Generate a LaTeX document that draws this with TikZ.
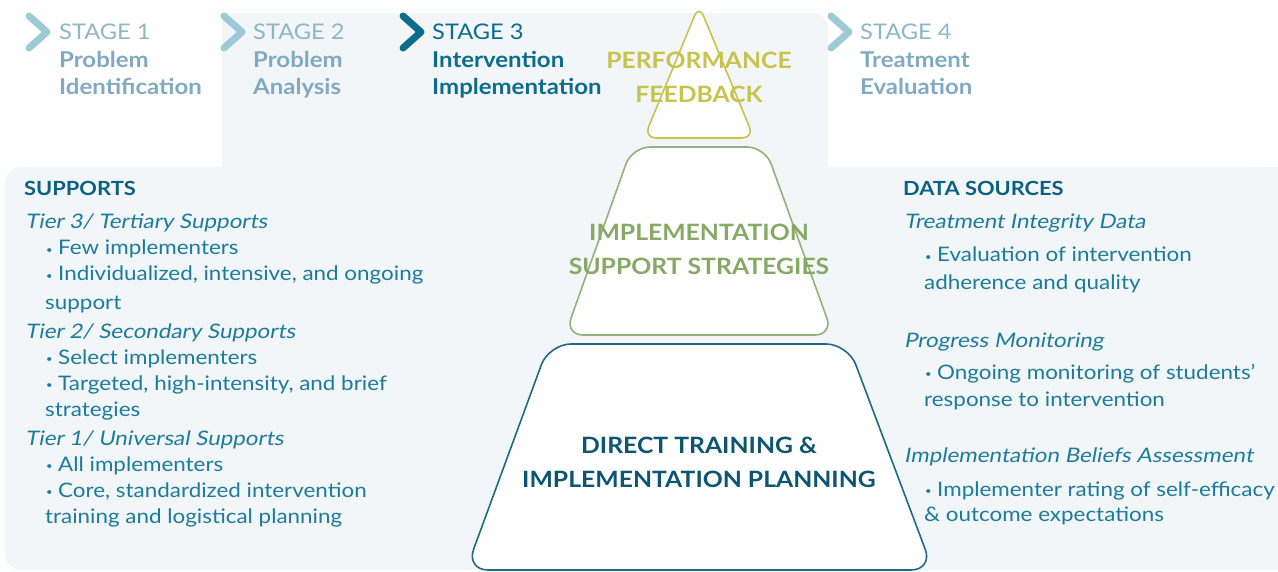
\documentclass[tikz,border=0pt]{standalone}
\usepackage{fontspec}
\setmainfont{Lato}
\newfontfamily\bodyf[FakeStretch=1.12]{Lato}
\newfontfamily\oblf[FakeStretch=1.12, FakeSlant=0.18]{Lato}
\newfontfamily\widef[FakeStretch=1.1]{Lato}
\definecolor{bgc}{HTML}{F2F6F8}
\definecolor{chevlight}{HTML}{9DCAD8}
\definecolor{stagelight}{HTML}{8DB6CB}
\definecolor{stagelightb}{HTML}{7FAAC4}
\definecolor{stagedark}{HTML}{0C6C8E}
\definecolor{headc}{HTML}{0B6181}
\definecolor{bodyc}{HTML}{1B7B9B}
\definecolor{yel}{HTML}{C8C34C}
\definecolor{grn}{HTML}{86A965}
\definecolor{grnline}{HTML}{93B27A}
\definecolor{botline}{HTML}{1F6985}
\definecolor{bottext}{HTML}{0D5572}
\newcommand{\bu}{\makebox[13pt][l]{\hspace{1pt}\raisebox{1.8pt}{\fontsize{10}{10}\selectfont •}}}
\tikzset{
  chev/.style={line width=7pt, line cap=round, line join=round},
  txt/.style={anchor=base west, inner sep=0pt, font=\bodyf\fontsize{20}{24}\selectfont, text=bodyc},
  tier/.style={txt, font=\oblf\fontsize{20}{24}\selectfont},
  head/.style={txt, font=\bodyf\fontsize{19.5}{24}\selectfont\bfseries, text=headc},
  stg/.style={anchor=base west, inner sep=0pt, font=\widef\fontsize{21.5}{24}\selectfont},
  stgb/.style={anchor=base west, inner sep=0pt, font=\widef\fontsize{21.8}{27}\selectfont\bfseries, align=left},
  pyr/.style={anchor=base, align=center, inner sep=0pt, font=\widef\fontsize{22.5}{34}\selectfont\bfseries},
}
\begin{document}
\begin{tikzpicture}[x=1pt,y=-1pt]
\useasboundingbox (0,0) rectangle (1278,572);
% background panels
\fill[bgc, rounded corners=16pt] (222,13) rectangle (828,167);
\fill[bgc] (222,13) rectangle (260,167);
\fill[bgc] (222,130) rectangle (828,167);
\fill[bgc, rounded corners=16pt] (5,167) rectangle (1278,570);
\fill[bgc] (1240,167) rectangle (1278,570);
\fill[bgc] (200,167) rectangle (1278,200);
% stages (base anchor of a two-line node = baseline of its last line)
\draw[chev, chevlight] (29,16) -- (47,32) -- (29,48);
\node[stg, text=stagelight] (s1) at (59,40) {STAGE 1};
\node[stgb, text=stagelightb] (s1b) at (59,95) {Problem\\Identification};
\draw[chev, chevlight] (224,16) -- (242,32) -- (224,48);
\node[stg, text=stagelight] (s2) at (253,40) {STAGE 2};
\node[stgb, text=stagelightb] (s2b) at (253,95) {Problem\\Analysis};
\draw[chev, stagedark] (403,16) -- (421,32) -- (403,48);
\node[stg, text=stagedark] (s3) at (432,40) {STAGE 3};
\node[stgb, text=stagedark] (s3b) at (432,95) {Intervention\\Implementation};
\draw[chev, chevlight] (831,16) -- (849,32) -- (831,48);
\node[stg, text=stagelight] (s4) at (860,40) {STAGE 4};
\node[stgb, text=stagelightb] (s4b) at (860,95) {Treatment\\Evaluation};
% pyramid
\draw[yel, line width=1.6pt, fill=white, rounded corners=12pt] (699,5) -- (754,138) -- (644,138) -- cycle;
\draw[grnline, line width=1.6pt, fill=white, rounded corners=18pt] (632,147) -- (765,147) -- (833,335) -- (565,335) -- cycle;
\draw[botline, line width=1.6pt, fill=white, rounded corners=22pt] (549,344) -- (848,344) -- (933,570) -- (466,570) -- cycle;
\node[pyr, text=yel] (pf) at (699,103) {PERFORMANCE\\FEEDBACK};
\node[pyr, text=grn] (is) at (699,275) {IMPLEMENTATION\\SUPPORT STRATEGIES};
\node[pyr, text=bottext] (dt) at (699,487) {DIRECT TRAINING \&\\IMPLEMENTATION PLANNING};
% supports
\node[head] (sup) at (24,196) {SUPPORTS};
\node[tier] (t3) at (25,229) {Tier 3/ Tertiary Supports};
\node[txt] (t3a) at (45,255) {\bu Few implementers};
\node[txt] (t3b) at (45,281) {\bu Individualized, intensive, and ongoing};
\node[txt] (t3c) at (45,309) {support};
\node[tier] (t2) at (25,338) {Tier 2/ Secondary Supports};
\node[txt] (t2a) at (45,364) {\bu Select implementers};
\node[txt] (t2b) at (45,390) {\bu Targeted, high-intensity, and brief};
\node[txt] (t2c) at (45,416) {strategies};
\node[tier] (t1) at (25,445) {Tier 1/ Universal Supports};
\node[txt] (t1a) at (45,471) {\bu All implementers};
\node[txt] (t1b) at (45,497) {\bu Core, standardized intervention};
\node[txt] (t1c) at (45,523) {training and logistical planning};
% data sources
\node[head] (ds) at (903,196) {DATA SOURCES};
\node[tier] (d1) at (904,229) {Treatment Integrity Data};
\node[txt] (d1a) at (924,262) {\bu Evaluation of intervention};
\node[txt] (d1b) at (924,290) {adherence and quality};
\node[tier] (d2) at (904,347) {Progress Monitoring};
\node[txt] (d2a) at (924,379) {\bu Ongoing monitoring of students’};
\node[txt] (d2b) at (924,406) {response to intervention};
\node[tier] (d3) at (904,462) {Implementation Beliefs Assessment};
\node[txt] (d3a) at (924,496) {\bu Implementer rating of self-efficacy};
\node[txt] (d3b) at (924,521) {\& outcome expectations};
\end{tikzpicture}
\end{document}
